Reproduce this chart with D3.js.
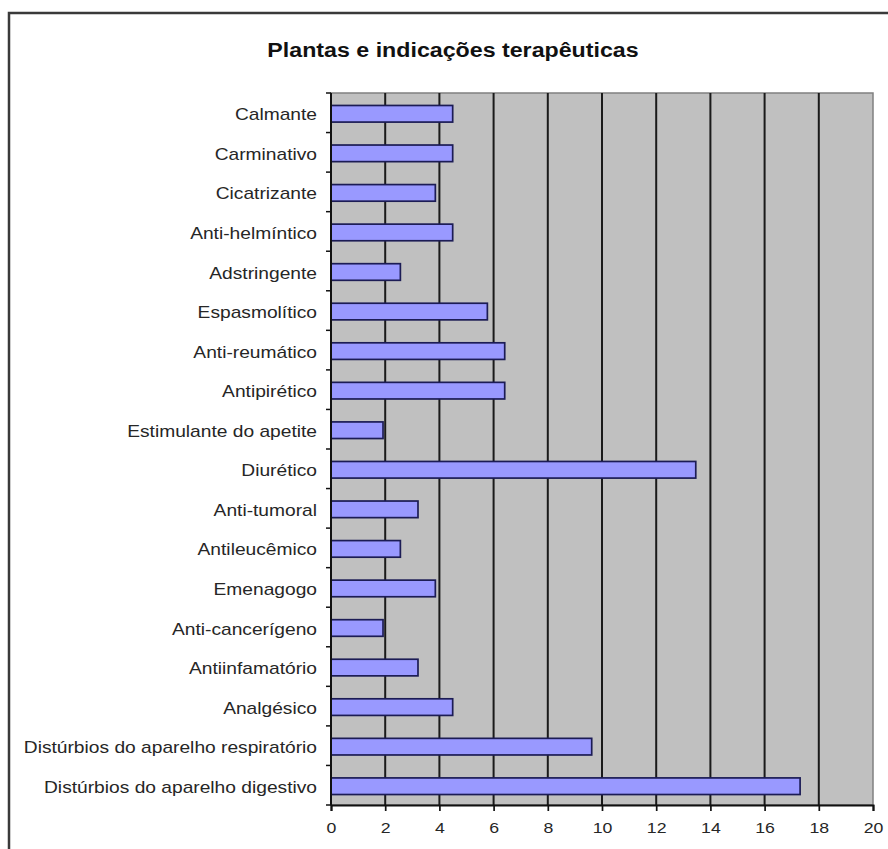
<!DOCTYPE html>
<html><head><meta charset="utf-8">
<script src="https://cdn.jsdelivr.net/npm/d3@7/dist/d3.min.js"></script>
<style>body{margin:0;background:#fff}svg{display:block}</style>
</head><body>
<script>
const title = "Plantas e indicações terapêuticas";
const categories = ["Calmante","Carminativo","Cicatrizante","Anti-helmíntico","Adstringente","Espasmolítico","Anti-reumático","Antipirético","Estimulante do apetite","Diurético","Anti-tumoral","Antileucêmico","Emenagogo","Anti-cancerígeno","Antiinfamatório","Analgésico","Distúrbios do aparelho respiratório","Distúrbios do aparelho digestivo"];
const values = [4.49,4.49,3.85,4.49,2.56,5.77,6.41,6.41,1.92,13.46,3.21,2.56,3.85,1.92,3.21,4.49,9.62,17.31];
const xTicks = [0,2,4,6,8,10,12,14,16,18,20];

const W = 888, H = 849;
const FONT = "Liberation Sans, Arial, sans-serif";
const svg = d3.select("body").append("svg").attr("width", W).attr("height", H);
svg.append("rect").attr("x",9).attr("y",13).attr("width",W+20).attr("height",H+20)
  .attr("fill","#fff").attr("stroke","#3a3a3a").attr("stroke-width",2.5);
svg.append("text").attr("transform","translate(453,57) scale(1.19,1)").attr("text-anchor","middle")
  .attr("font-family",FONT).attr("font-weight","bold")
  .attr("font-size",19.5).attr("fill","#111").text(title);

const L = 331, R = 873, T = 93, B = 805;
const x = d3.scaleLinear().domain([0,20]).range([L,R]);
const y = d3.scaleBand().domain(categories).range([T,B]).paddingInner(0.58).paddingOuter(0.29);
const yb = d3.scaleBand().domain(categories).range([T,B]);

svg.append("rect").attr("x",L).attr("y",T).attr("width",R-L).attr("height",B-T)
  .attr("fill","#c0c0c0").attr("stroke","#808080").attr("stroke-width",1.5);
svg.append("g").selectAll("line").data(xTicks.slice(1,-1)).join("line")
  .attr("x1",d=>x(d)).attr("x2",d=>x(d)).attr("y1",T).attr("y2",B)
  .attr("stroke","#1a1a1a").attr("stroke-width",2);

svg.append("g").selectAll("rect").data(categories).join("rect")
  .attr("x",x(0)).attr("y",d=>y(d)+1).attr("width",(d,i)=>x(values[i])-x(0)).attr("height",y.bandwidth())
  .attr("fill","#9999ff").attr("stroke","#1c1c55").attr("stroke-width",1.7);

// y axis
const ya = svg.append("g").attr("transform",`translate(${L},0)`);
ya.append("line").attr("x1",0).attr("x2",0).attr("y1",T).attr("y2",B).attr("stroke","#111").attr("stroke-width",2);
ya.selectAll(".tk").data(categories.concat(["_end"])).join("line")
  .attr("x1",-5).attr("x2",0)
  .attr("y1",(d,i)=> i<categories.length ? yb(d) : B).attr("y2",(d,i)=> i<categories.length ? yb(d) : B)
  .attr("stroke","#111").attr("stroke-width",1.5);
ya.selectAll("text").data(categories).join("text")
  .attr("transform",d=>`translate(-14,${yb(d)+yb.bandwidth()/2+7.5}) scale(1.2,1)`).attr("text-anchor","end")
  .attr("font-family",FONT).attr("font-size",16).attr("fill","#262626").text(d=>d);

// x axis
const xa = svg.append("g").attr("transform",`translate(0,${B})`)
  .call(d3.axisBottom(x).tickValues(xTicks).tickSize(6).tickPadding(0).tickFormat(d3.format("d")));
xa.select(".domain").attr("stroke","#111").attr("stroke-width",2);
xa.selectAll(".tick line").attr("stroke","#111").attr("stroke-width",1.7);
xa.selectAll("text").attr("y",null).attr("dy",null).attr("transform","translate(0,28) scale(1.18,1)")
  .attr("font-family",FONT).attr("font-size",15).attr("fill","#262626");
</script>
</body></html>
